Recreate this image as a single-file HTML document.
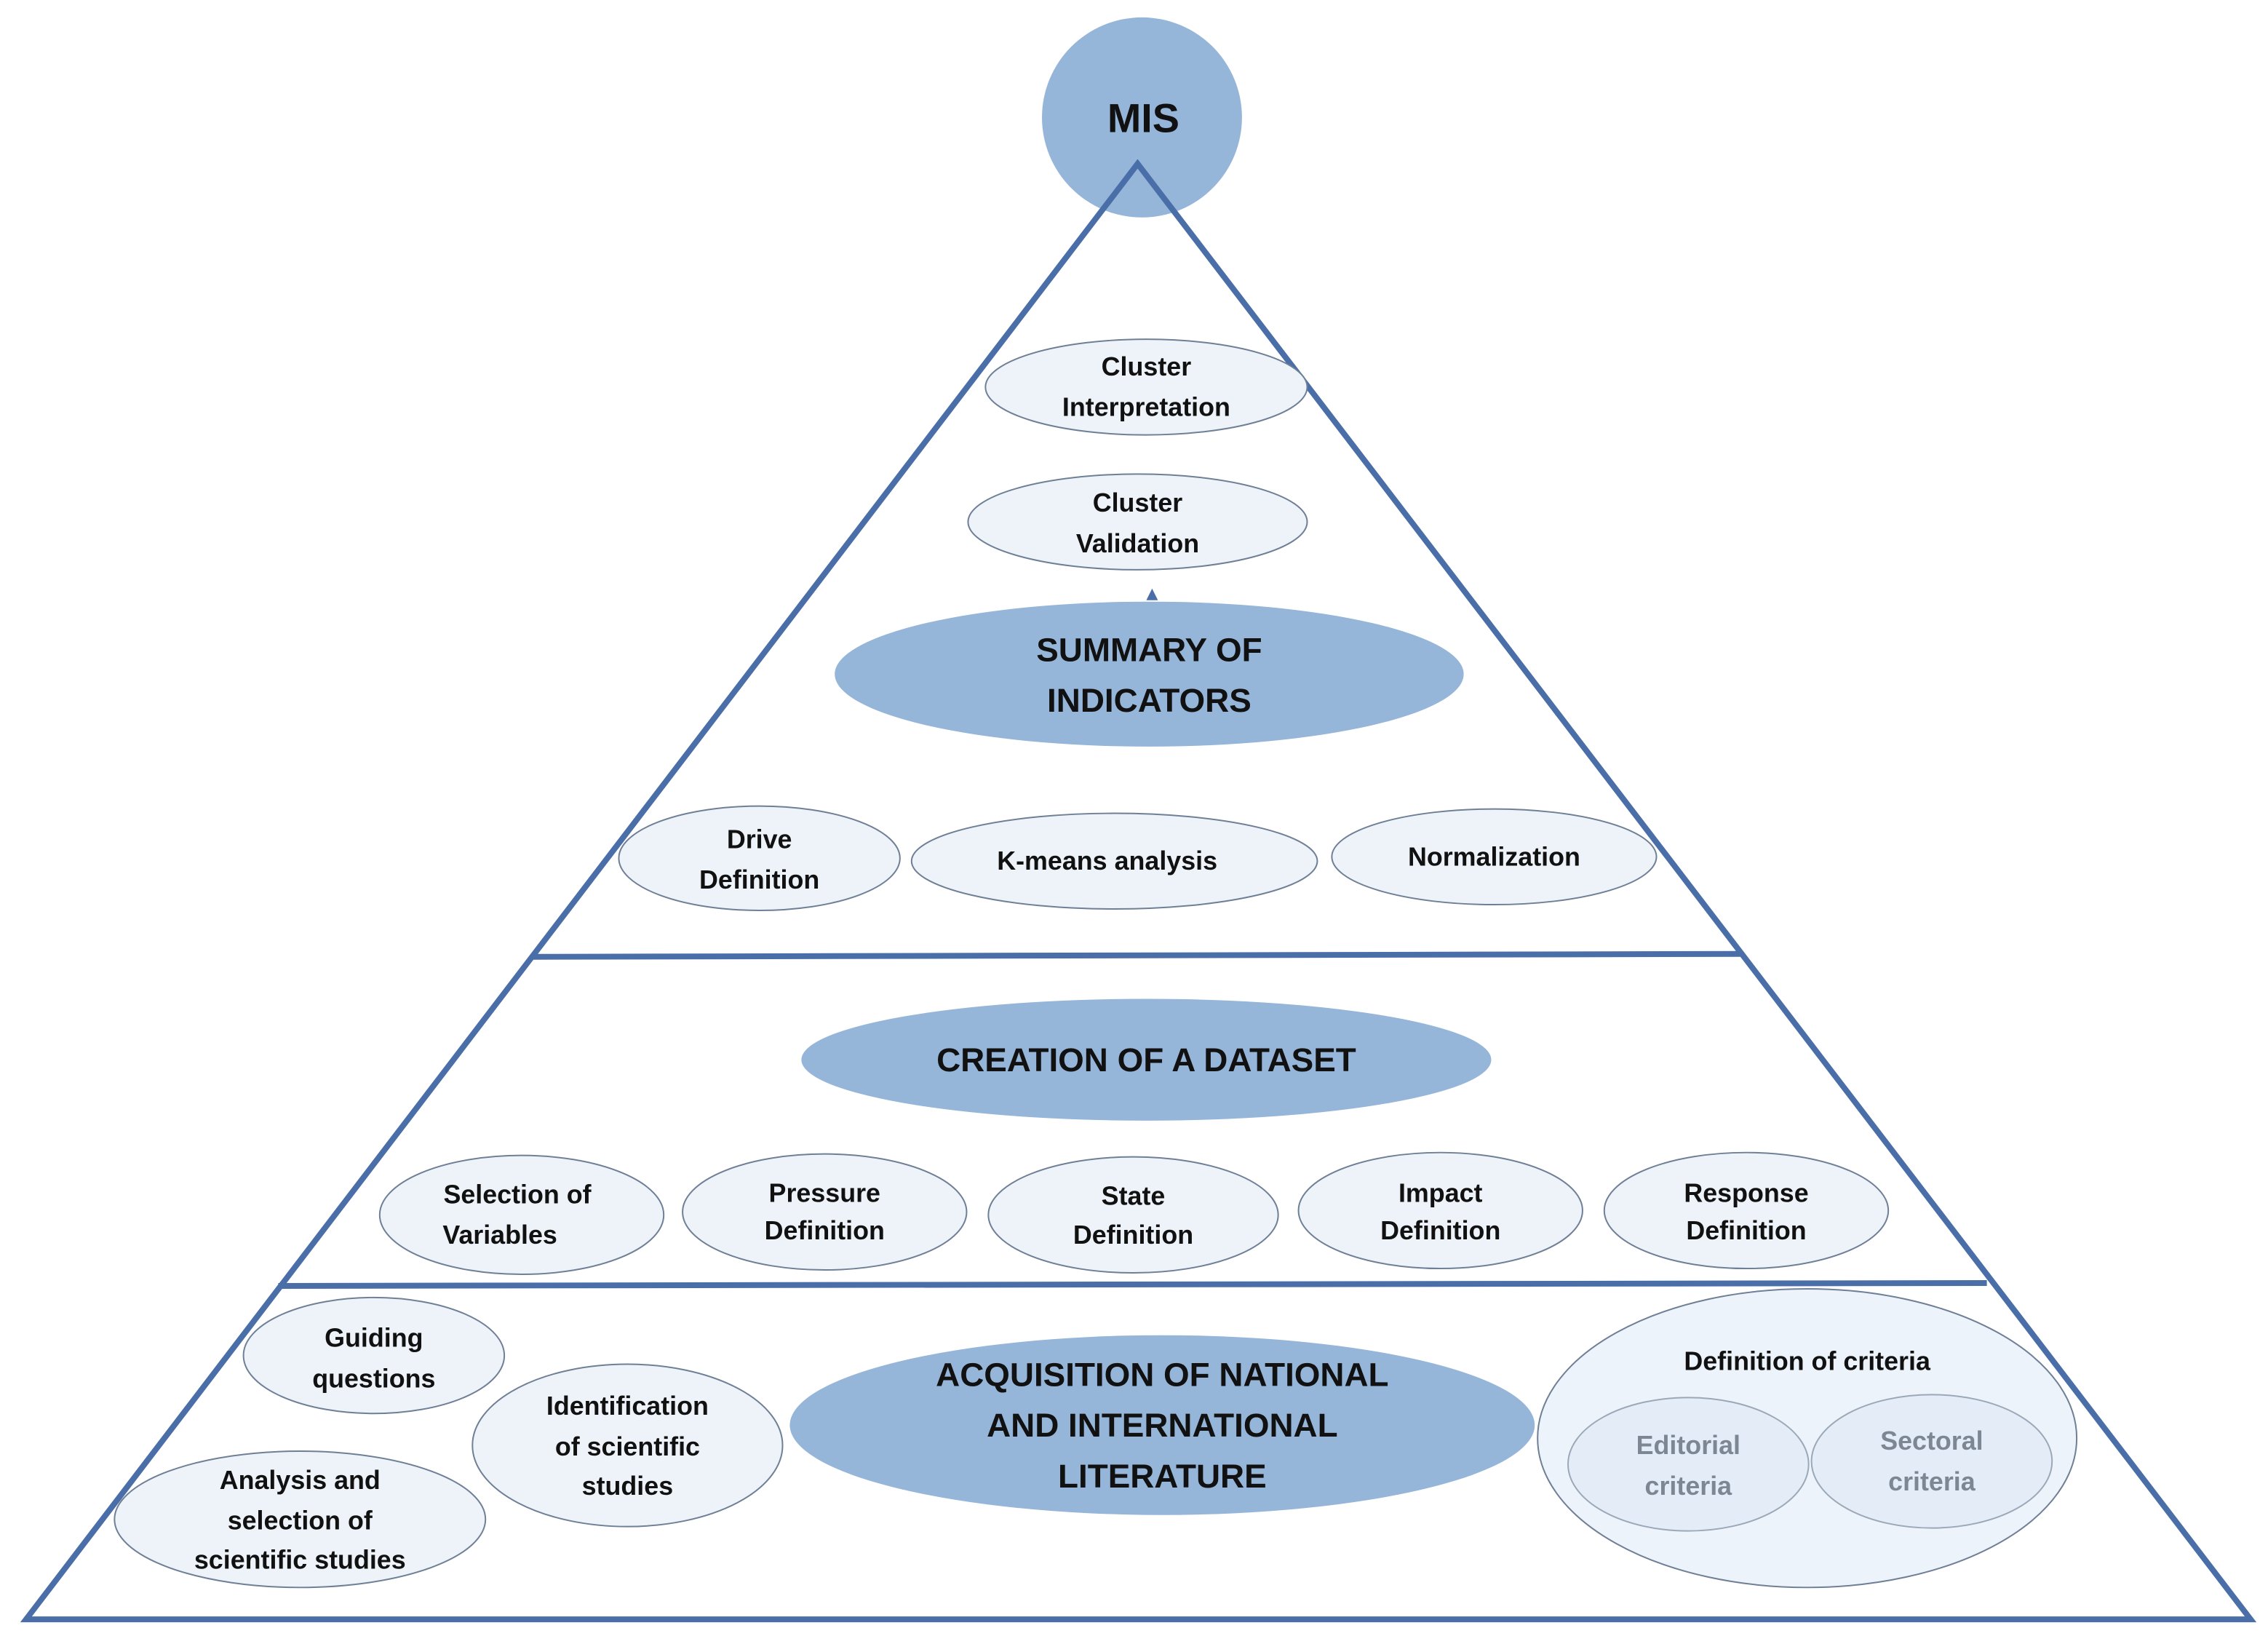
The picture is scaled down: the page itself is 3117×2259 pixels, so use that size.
<!DOCTYPE html>
<html><head><meta charset="utf-8"><style>
html,body{margin:0;padding:0;background:#fff;}
svg{display:block;}
text{font-family:"Liberation Sans",sans-serif;font-weight:bold;text-anchor:middle;fill:#111;}
.l{fill:#eef3fa;stroke:#6f7f96;stroke-width:1;}
.d{fill:#95b5d9;stroke:none;}
.t{font-size:18px;}
.b{font-size:23px;}
.g{fill:#7d8794;font-size:18px;font-weight:bold;}
</style></head><body>
<svg width="3117" height="2259" viewBox="0 0 1565 1134" preserveAspectRatio="none" xmlns="http://www.w3.org/2000/svg">
<circle cx="788" cy="81" r="69" fill="#95b5d9"/>
<text x="789" y="91" style="font-size:28px">MIS</text>
<polygon points="785,113 18,1117 1553,1117" fill="none" stroke="#4a6ea7" stroke-width="4" stroke-linejoin="miter"/>
<line x1="368" y1="660" x2="1202" y2="658" stroke="#4a6ea7" stroke-width="4"/>
<line x1="192" y1="887" x2="1371" y2="885" stroke="#4a6ea7" stroke-width="4"/>

<ellipse class="l" cx="791" cy="267" rx="111" ry="33"/>
<text class="t" x="791" y="259">Cluster</text><text class="t" x="791" y="287">Interpretation</text>
<ellipse class="l" cx="785" cy="360" rx="117" ry="33"/>
<text class="t" x="785" y="353">Cluster</text><text class="t" x="785" y="381">Validation</text>
<polygon points="795,406 791,414 799,414" fill="#4a6ea7"/>
<ellipse class="d" cx="793" cy="465" rx="217" ry="50"/>
<text class="b" x="793" y="456">SUMMARY OF</text><text class="b" x="793" y="491">INDICATORS</text>

<ellipse class="l" cx="524" cy="592" rx="97" ry="36"/>
<text class="t" x="524" y="585">Drive</text><text class="t" x="524" y="613">Definition</text>
<ellipse class="l" cx="769" cy="594" rx="140" ry="33"/>
<text class="t" x="764" y="600">K-means analysis</text>
<ellipse class="l" cx="1031" cy="591" rx="112" ry="33"/>
<text class="t" x="1031" y="597">Normalization</text>

<ellipse class="d" cx="791" cy="731" rx="238" ry="42"/>
<text class="b" x="791" y="739">CREATION OF A DATASET</text>

<ellipse class="l" cx="360" cy="838" rx="98" ry="41"/>
<text class="t" x="357" y="830">Selection of</text><text class="t" x="345" y="858">Variables</text>
<ellipse class="l" cx="569" cy="836" rx="98" ry="40"/>
<text class="t" x="569" y="829">Pressure</text><text class="t" x="569" y="855">Definition</text>
<ellipse class="l" cx="782" cy="838" rx="100" ry="40"/>
<text class="t" x="782" y="831">State</text><text class="t" x="782" y="858">Definition</text>
<ellipse class="l" cx="994" cy="835" rx="98" ry="40"/>
<text class="t" x="994" y="829">Impact</text><text class="t" x="994" y="855">Definition</text>
<ellipse class="l" cx="1205" cy="835" rx="98" ry="40"/>
<text class="t" x="1205" y="829">Response</text><text class="t" x="1205" y="855">Definition</text>

<ellipse class="l" cx="258" cy="935" rx="90" ry="40"/>
<text class="t" x="258" y="929">Guiding</text><text class="t" x="258" y="957">questions</text>
<ellipse class="l" cx="433" cy="997" rx="107" ry="56"/>
<text class="t" x="433" y="976">Identification</text><text class="t" x="433" y="1004">of scientific</text><text class="t" x="433" y="1031">studies</text>
<ellipse class="l" cx="207" cy="1048" rx="128" ry="47"/>
<text class="t" x="207" y="1027">Analysis and</text><text class="t" x="207" y="1055">selection of</text><text class="t" x="207" y="1082">scientific studies</text>

<ellipse class="d" cx="802" cy="983" rx="257" ry="62"/>
<text class="b" x="802" y="956">ACQUISITION OF NATIONAL</text><text class="b" x="802" y="991">AND INTERNATIONAL</text><text class="b" x="802" y="1026">LITERATURE</text>

<ellipse class="l" cx="1247" cy="992" rx="186" ry="103" style="fill:#edf3fa"/>
<text class="t" x="1247" y="945">Definition of criteria</text>
<ellipse class="l" cx="1165" cy="1010" rx="83" ry="46" style="fill:#e4edf7;stroke:#9aa8b8"/>
<text class="g" x="1165" y="1003">Editorial</text><text class="g" x="1165" y="1031">criteria</text>
<ellipse class="l" cx="1333" cy="1008" rx="83" ry="46" style="fill:#e4edf7;stroke:#9aa8b8"/>
<text class="g" x="1333" y="1000">Sectoral</text><text class="g" x="1333" y="1028">criteria</text>
</svg>
</body></html>
